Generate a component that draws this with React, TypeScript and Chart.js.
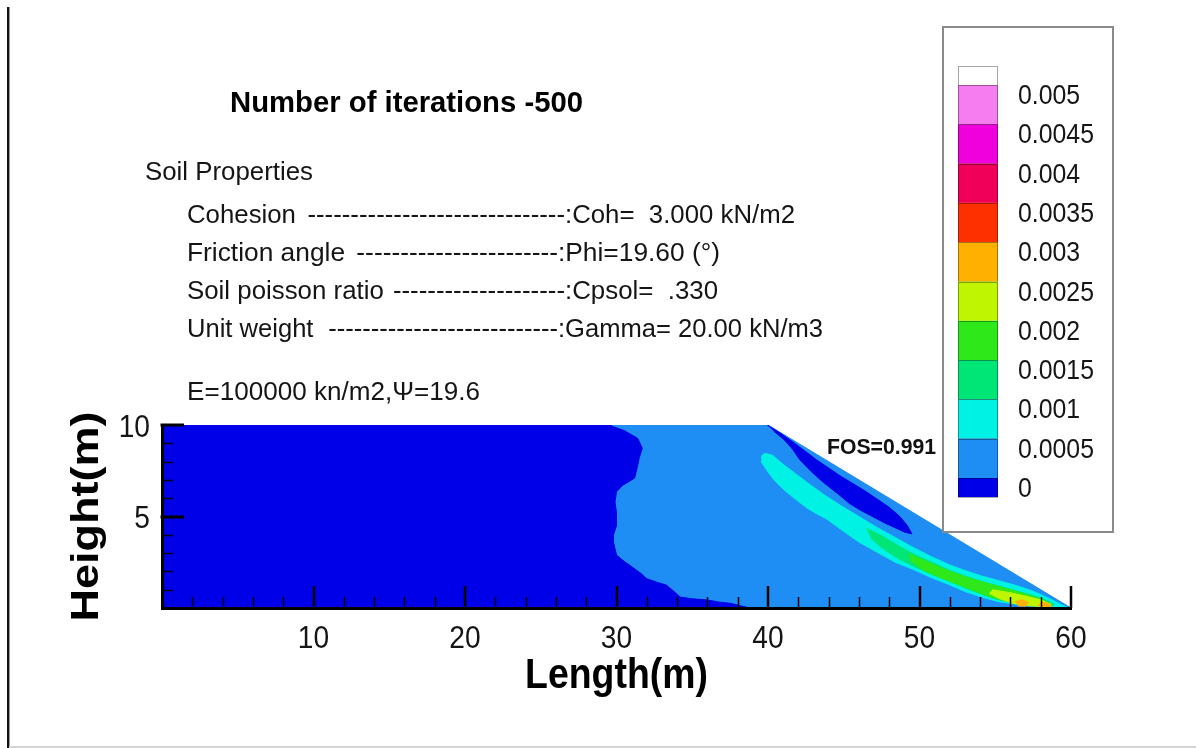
import { useEffect, useRef } from "react";
import { Chart, registerables } from "chart.js";

Chart.register(...registerables);

type Pt = [number, number];

const FONT = '"Liberation Sans", Arial, Helvetica, sans-serif';

// Displacement contour levels (m) listed in the key, lowest first
const levelLabels = ["0", "0.0005", "0.001", "0.0015", "0.002", "0.0025", "0.003", "0.0035", "0.004", "0.0045", "0.005"];
// Fill colour of each contour band, lowest first; the last band lies above 0.005
const levelColors = [
  "#0000e8", "#1e8ef5", "#00f2e4", "#00e676", "#2ee81a", "#c0f500",
  "#ffb000", "#ff3000", "#f00058", "#f000dc", "#f57df0", "#ffffff",
];

// Slope cross-section: 40 m crest, face running down to the toe at 60 m
const slopeSection: Pt[] = [[0, 0], [0, 10], [40, 10], [60, 0]];

// Undisturbed ground behind the slope (band 0)
const farFieldZone: Pt[] = [
  [0, 0], [0, 10], [29.6, 10], [29.8, 9.9], [30.5, 9.7], [31.4, 9.27], [31.7, 8.73], [31.5, 8.2],
  [31.4, 7.8], [31.2, 7.1], [30.4, 6.7], [30.0, 6.35], [29.9, 5.8], [30.0, 5.2], [30.0, 4.5],
  [29.8, 4.0], [29.8, 3.6], [30.0, 2.9], [30.5, 2.55], [31.1, 2.2], [31.6, 1.9], [32.0, 1.6],
  [32.7, 1.4], [33.3, 1.25], [33.8, 0.9], [34.2, 0.6], [35.0, 0.5], [36.0, 0.44], [36.8, 0.32],
  [37.5, 0.26], [38.2, 0.12], [38.8, 0],
];

// Lens of band 0 just under the slope face
const crestZone: Pt[] = [
  [39.95, 10], [40.5, 9.72], [41.0, 9.45], [41.6, 9.1], [42.4, 8.6], [43.2, 8.1], [44.0, 7.65],
  [44.8, 7.2], [45.6, 6.8], [46.4, 6.4], [47.2, 5.95], [48.0, 5.5], [48.7, 5.0], [49.2, 4.5],
  [49.5, 4.05], [49.0, 4.15], [48.5, 4.35], [47.7, 4.65], [46.9, 5.0], [46.2, 5.3], [45.4, 5.7],
  [44.6, 6.25], [43.6, 6.9], [42.8, 7.5], [42.1, 8.1], [41.6, 8.7], [41.0, 9.25], [40.4, 9.65],
];

// Shear band from below the crest to the toe (band 2)
const shearBand: Pt[] = [
  [39.55, 8.3], [39.8, 8.45], [40.3, 8.35], [41.0, 7.85], [41.8, 7.35], [42.6, 6.85], [43.6, 6.25],
  [44.8, 5.6], [46.0, 5.0], [47.2, 4.4], [48.4, 3.85], [49.6, 3.3], [50.8, 2.8], [52.0, 2.35],
  [53.0, 2.05], [54.1, 1.75], [55.2, 1.5], [56.3, 1.25], [57.4, 0.95], [58.5, 0.55], [59.3, 0.2],
  [59.8, 0.02], [58.8, 0.02], [57.4, 0.12], [56.3, 0.22], [55.2, 0.35], [54.1, 0.6], [53.0, 0.9],
  [51.9, 1.3], [50.8, 1.65], [49.6, 2.1], [48.4, 2.5], [47.2, 3.05], [46.0, 3.6], [44.8, 4.3],
  [43.9, 4.85], [43.2, 5.15], [42.6, 5.45], [41.8, 5.95], [41.0, 6.5], [40.4, 7.0], [39.9, 7.55],
  [39.55, 8.0],
];

// Inner cores of the shear band (bands 3 and 4)
const bandCoreLow: Pt[] = [
  [46.5, 4.35], [47.5, 3.95], [48.6, 3.4], [49.7, 2.9], [50.8, 2.5], [52.0, 2.05], [53.0, 1.75],
  [54.1, 1.45], [55.2, 1.2], [56.3, 0.95], [57.4, 0.7], [58.3, 0.45], [58.9, 0.2], [58.6, 0.08],
  [57.4, 0.2], [56.3, 0.3], [55.2, 0.45], [54.1, 0.75], [53.0, 1.1], [51.9, 1.5], [50.8, 1.85],
  [49.7, 2.25], [48.6, 2.7], [47.5, 3.3], [46.8, 3.8],
];
const bandCoreHigh: Pt[] = [
  [49.3, 2.95], [50.3, 2.6], [51.4, 2.2], [52.5, 1.85], [53.6, 1.55], [54.7, 1.3], [55.8, 1.05],
  [56.9, 0.8], [57.9, 0.5], [58.5, 0.25], [58.2, 0.12], [57.0, 0.25], [55.8, 0.4], [54.7, 0.6],
  [53.6, 0.95], [52.5, 1.3], [51.4, 1.65], [50.3, 2.05], [49.4, 2.6],
];

// Peak displacements near the toe (bands 5 and 6)
const toeZone: Pt[] = [
  [54.8, 1.0], [55.9, 0.85], [57.0, 0.65], [58.0, 0.45], [58.7, 0.2], [58.3, 0.08], [57.2, 0.12],
  [56.2, 0.25], [55.3, 0.5], [54.6, 0.8],
];
const toePeakA: Pt[] = [[56.3, 0.35], [56.8, 0.45], [57.2, 0.3], [57.0, 0.1], [56.5, 0.12]];
const toePeakB: Pt[] = [[58.0, 0.3], [58.5, 0.28], [58.7, 0.1], [58.2, 0.06], [57.8, 0.15]];

// Filled regions with their contour band, listed bottom to top
const regions: { pts: Pt[]; band: number }[] = [
  { pts: slopeSection, band: 1 },
  { pts: farFieldZone, band: 0 },
  { pts: crestZone, band: 0 },
  { pts: shearBand, band: 2 },
  { pts: bandCoreLow, band: 3 },
  { pts: bandCoreHigh, band: 4 },
  { pts: toeZone, band: 5 },
  { pts: toePeakA, band: 6 },
  { pts: toePeakB, band: 6 },
];

const xTickValues = [10, 20, 30, 40, 50, 60];
const yTickValues = [5, 10];
const xMinorStep = 2;
const yMinorStep = 1;

const titleText = "Number of iterations -500";
const soilHeading = "Soil Properties";
const soilNames = ["Cohesion", "Friction angle", "Soil poisson ratio", "Unit weight"];
const soilValues = [":Coh=  3.000 kN/m2", ":Phi=19.60 (°)", ":Cpsol=  .330", ":Gamma= 20.00 kN/m3"];
const modulusNote = "E=100000 kn/m2,Ψ=19.6";
const fosNote = "FOS=0.991";
const xTitle = "Length(m)";
const yTitle = "Height(m)";

type TextOpts = {
  bold?: boolean;
  align?: CanvasTextAlign;
  sx?: number;
  width?: number;
  color?: string;
};

function setFont(ctx: CanvasRenderingContext2D, size: number, bold?: boolean) {
  ctx.font = `${bold ? "bold " : ""}${size}px ${FONT}`;
}

// Draws a line of text on an alphabetic baseline, optionally squeezed to a width
function drawText(
  ctx: CanvasRenderingContext2D,
  s: string,
  x: number,
  baseline: number,
  size: number,
  o: TextOpts = {}
): number {
  ctx.save();
  setFont(ctx, size, o.bold);
  const w = ctx.measureText(s).width;
  const sx = o.width ? o.width / w : o.sx ?? 1;
  ctx.translate(x, baseline);
  ctx.scale(sx, 1);
  ctx.textAlign = o.align ?? "left";
  ctx.textBaseline = "alphabetic";
  ctx.fillStyle = o.color ?? "#151515";
  ctx.fillText(s, 0, 0);
  ctx.restore();
  return w * sx;
}

const decorPlugin = {
  id: "slopeDecor",
  afterDraw(chart: Chart) {
    const { ctx, chartArea: a } = chart;
    const xs = chart.scales.x;
    const ys = chart.scales.y;
    ctx.save();

    // page frame
    ctx.fillStyle = "#111";
    ctx.fillRect(7, 7, 2, 741);
    ctx.fillStyle = "#9a9a9a";
    ctx.fillRect(9, 7, 1, 741);
    ctx.fillStyle = "#d4d4d4";
    ctx.fillRect(9, 746, 1187, 2);

    // inward tick marks
    ctx.strokeStyle = "#000";
    ctx.lineCap = "butt";
    for (let v = xMinorStep; v < 60; v += xMinorStep) {
      if (xTickValues.includes(v)) continue;
      const px = Math.round(xs.getPixelForValue(v)) + 0.5;
      ctx.lineWidth = 1.5;
      ctx.beginPath();
      ctx.moveTo(px, a.bottom);
      ctx.lineTo(px, a.bottom - 11);
      ctx.stroke();
    }
    for (const v of xTickValues) {
      const px = Math.round(xs.getPixelForValue(v));
      ctx.lineWidth = 2.5;
      ctx.beginPath();
      ctx.moveTo(px, a.bottom);
      ctx.lineTo(px, a.bottom - 22);
      ctx.stroke();
    }
    for (let v = yMinorStep; v < 10; v += yMinorStep) {
      if (yTickValues.includes(v)) continue;
      const py = Math.round(ys.getPixelForValue(v)) + 0.5;
      ctx.lineWidth = 1.5;
      ctx.beginPath();
      ctx.moveTo(a.left, py);
      ctx.lineTo(a.left + 11, py);
      ctx.stroke();
    }
    for (const v of yTickValues) {
      const py = Math.round(ys.getPixelForValue(v));
      ctx.lineWidth = 3;
      ctx.beginPath();
      ctx.moveTo(a.left - 1.5, py);
      ctx.lineTo(a.left + 22, py);
      ctx.stroke();
    }

    // tick labels
    for (const v of xTickValues) {
      drawText(ctx, String(v), xs.getPixelForValue(v), 648, 32, { align: "center", sx: 0.88 });
    }
    for (const v of yTickValues) {
      drawText(ctx, String(v), a.left - 12, ys.getPixelForValue(v) + 11.5, 32, { align: "right", sx: 0.88 });
    }

    // axis titles
    drawText(ctx, xTitle, (a.left + a.right) / 2, 688, 43, { bold: true, align: "center", sx: 0.87, color: "#000" });
    ctx.save();
    setFont(ctx, 45, true);
    ctx.translate(98, (a.top + a.bottom) / 2);
    ctx.scale(0.88, 1);
    ctx.rotate(-Math.PI / 2);
    ctx.textAlign = "center";
    ctx.textBaseline = "alphabetic";
    ctx.fillStyle = "#000";
    ctx.fillText(yTitle, 0, 0);
    ctx.restore();

    // heading and soil parameters
    drawText(ctx, titleText, 230, 112, 29, { bold: true, width: 353, color: "#000" });
    drawText(ctx, soilHeading, 145, 180, 26, { width: 168 });
    const colonX = [565, 558, 565, 558];
    const rightX = [795, 720, 718, 823];
    const rowBase = [223, 261, 299, 337];
    for (let i = 0; i < soilNames.length; i++) {
      setFont(ctx, 26);
      const vw = ctx.measureText(soilValues[i]).width;
      const sx = (rightX[i] - colonX[i]) / vw;
      const lw = drawText(ctx, soilNames[i] + " ", 187, rowBase[i], 26, { sx });
      setFont(ctx, 26);
      const dw = ctx.measureText("-").width * sx;
      const n = Math.floor((colonX[i] - 187 - lw) / dw);
      drawText(ctx, "-".repeat(n), colonX[i] - n * dw, rowBase[i], 26, { sx });
      drawText(ctx, soilValues[i], colonX[i], rowBase[i], 26, { sx });
    }
    drawText(ctx, modulusNote, 187, 400, 26, { width: 293 });

    // safety factor
    drawText(ctx, fosNote, 827, 454, 22, { bold: true, width: 109, color: "#111" });

    // contour key
    ctx.strokeStyle = "#8a8a8a";
    ctx.lineWidth = 2;
    ctx.strokeRect(943, 27, 170, 505);
    const barL = 958;
    const barW = 40;
    const barTop = 66;
    const cellH = 39.3;
    const halfH = 19;
    let yy = barTop;
    for (let b = levelColors.length - 1; b >= 0; b--) {
      const h = b === levelColors.length - 1 || b === 0 ? halfH : cellH;
      ctx.fillStyle = levelColors[b];
      ctx.fillRect(barL, yy, barW, h);
      ctx.strokeStyle = "rgba(0,0,0,0.35)";
      ctx.lineWidth = 1;
      ctx.strokeRect(barL + 0.5, Math.round(yy) + 0.5, barW - 1, h);
      yy += h;
    }
    for (let k = 0; k < levelLabels.length; k++) {
      const boundary = barTop + halfH + (levelLabels.length - 1 - k) * cellH;
      drawText(ctx, levelLabels[k], 1018, boundary + 19, 27, { sx: 0.92 });
    }

    ctx.restore();
  },
};

export default function App() {
  const ref = useRef<HTMLCanvasElement | null>(null);

  useEffect(() => {
    if (!ref.current) return;
    const datasets = regions.map((r, i) => ({
      type: "line" as const,
      data: r.pts.map(([px, py]) => ({ x: px, y: py })),
      backgroundColor: levelColors[r.band],
      borderColor: levelColors[r.band],
      borderWidth: 1,
      pointRadius: 0,
      pointHoverRadius: 0,
      tension: 0,
      fill: "shape" as const,
      order: regions.length - i,
    }));

    const chart = new Chart(ref.current, {
      type: "scatter",
      data: { datasets: datasets as any },
      options: {
        animation: false,
        responsive: true,
        maintainAspectRatio: false,
        events: [],
        layout: { padding: { left: 162, right: 125, top: 425, bottom: 140 } },
        plugins: {
          legend: { display: false },
          tooltip: { enabled: false },
          title: { display: false },
        },
        scales: {
          x: {
            type: "linear",
            min: 0,
            max: 60,
            ticks: { display: false },
            grid: { display: false, drawTicks: false },
            border: { display: true, color: "#000", width: 3, z: 2 },
            afterFit: (s: any) => {
              s.height = 0;
            },
          },
          y: {
            type: "linear",
            min: 0,
            max: 10,
            ticks: { display: false },
            grid: { display: false, drawTicks: false },
            border: { display: true, color: "#000", width: 3, z: 2 },
            afterFit: (s: any) => {
              s.width = 0;
            },
          },
        },
      },
      plugins: [decorPlugin],
    });

    return () => chart.destroy();
  }, []);

  return (
    <div style={{ position: "fixed", left: 0, top: 0, width: 1196, height: 748, background: "#fff" }}>
      <canvas ref={ref} />
    </div>
  );
}
